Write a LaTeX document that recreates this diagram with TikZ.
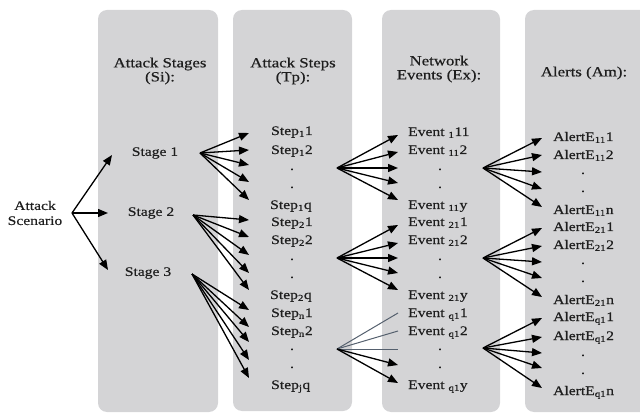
\documentclass[tikz,border=0pt]{standalone}
\usepackage{fontspec}
\setmainfont{Liberation Serif}[FakeStretch=1.2,FakeBold=0.5]
\usetikzlibrary{arrows.meta}
\definecolor{colbg}{RGB}{212,212,214}
\definecolor{slate}{RGB}{85,96,110}
\definecolor{ink}{RGB}{30,30,30}
\begin{document}
\begin{tikzpicture}[x=1pt,y=-1pt,
  lbl/.style={font=\fontsize{13}{15}\selectfont, text=ink, inner sep=0pt, anchor=base west},
  mid/.style={font=\fontsize{13}{15}\selectfont, text=ink, inner sep=0pt, align=center},
  dotlbl/.style={font=\fontsize{13}{15}\selectfont, text=ink, inner sep=0pt, anchor=base},
  hdr/.style={font=\fontsize{14}{14}\selectfont, text=ink, align=center, inner sep=0pt},
  arr/.style={line width=1.3pt, -{Triangle[length=10pt,width=8pt]}},
  thin/.style={line width=1pt, draw=slate},
  colbox/.style={fill=colbg, rounded corners=9pt}]
\useasboundingbox (0,0) rectangle (640,414);
\begin{scope}
\clip (0,0) rectangle (640,414);
\fill[colbox] (98,10) rectangle (218,412);
\fill[colbox] (233,10) rectangle (352,411);
\fill[colbox] (382,10) rectangle (500,412);
\fill[colbox] (525,10) rectangle (660,412);
\end{scope}
% headers
\node[hdr] (h1) at (160,71) {Attack Stages\\(Si):};
\node[hdr] (h2) at (293,71) {Attack Steps\\(Tp):};
\node[hdr] (h3) at (439,69) {Network\\Events (Ex):};
\node[hdr] (h4) at (584,73) {Alerts (Am):};
% scenario and stages
\node[mid] (sc) at (35,213) {Attack\\Scenario};
\node[mid] (g1) at (155,153) {Stage 1};
\node[mid] (g2) at (151,213) {Stage 2};
\node[mid] (g3) at (148,273) {Stage 3};
% steps
\node[lbl] (p1) at (271,135) {Step\textsubscript{1}1};
\node[lbl] (p2) at (271,154) {Step\textsubscript{1}2};
\node[dotlbl] (p3) at (292,170) {.};
\node[dotlbl] (p4) at (292,188) {.};
\node[lbl] (p5) at (270,209) {Step\textsubscript{1}q};
\node[lbl] (p6) at (271,226) {Step\textsubscript{2}1};
\node[lbl] (p7) at (271,244) {Step\textsubscript{2}2};
\node[dotlbl] (p8) at (292,260) {.};
\node[dotlbl] (p9) at (292,278) {.};
\node[lbl] (p10) at (270,299) {Step\textsubscript{2}q};
\node[lbl] (p11) at (271,317) {Step\textsubscript{n}1};
\node[lbl] (p12) at (271,335) {Step\textsubscript{n}2};
\node[dotlbl] (p13) at (292,350) {.};
\node[dotlbl] (p14) at (292,368) {.};
\node[lbl] (p15) at (271,389) {Step\textsubscript{j}q};
% events
\node[lbl] (e1) at (408,136) {Event \textsubscript{1}11};
\node[lbl] (e2) at (408,154) {Event \textsubscript{11}2};
\node[dotlbl] (e3) at (440,170) {.};
\node[dotlbl] (e4) at (440,188) {.};
\node[lbl] (e5) at (408,209) {Event \textsubscript{11}y};
\node[lbl] (e6) at (408,226) {Event \textsubscript{21}1};
\node[lbl] (e7) at (408,244) {Event \textsubscript{21}2};
\node[dotlbl] (e8) at (440,260) {.};
\node[dotlbl] (e9) at (440,278) {.};
\node[lbl] (e10) at (408,299) {Event \textsubscript{21}y};
\node[lbl] (e11) at (408,317) {Event \textsubscript{q1}1};
\node[lbl] (e12) at (408,335) {Event \textsubscript{q1}2};
\node[dotlbl] (e13) at (440,350) {.};
\node[dotlbl] (e14) at (440,368) {.};
\node[lbl] (e15) at (408,389) {Event \textsubscript{q1}y};
% alerts
\node[lbl] (a1) at (553,141) {AlertE\textsubscript{11}1};
\node[lbl] (a2) at (553,159) {AlertE\textsubscript{11}2};
\node[dotlbl] (a3) at (583,174) {.};
\node[dotlbl] (a4) at (583,192) {.};
\node[lbl] (a5) at (553,214) {AlertE\textsubscript{11}n};
\node[lbl] (a6) at (553,231) {AlertE\textsubscript{21}1};
\node[lbl] (a7) at (553,249) {AlertE\textsubscript{21}2};
\node[dotlbl] (a8) at (583,264) {.};
\node[dotlbl] (a9) at (583,282) {.};
\node[lbl] (a10) at (553,304) {AlertE\textsubscript{21}n};
\node[lbl] (a11) at (553,321) {AlertE\textsubscript{q1}1};
\node[lbl] (a12) at (553,340) {AlertE\textsubscript{q1}2};
\node[dotlbl] (a13) at (583,356) {.};
\node[dotlbl] (a14) at (583,374) {.};
\node[lbl] (a15) at (553,395) {AlertE\textsubscript{q1}n};
% fan origins
\coordinate (o0) at (72,213);
\coordinate (o1) at (200,153);
\coordinate (o2) at (193,215);
\coordinate (o3) at (192,274);
\coordinate (q1) at (337,168);
\coordinate (q2) at (337,258);
\coordinate (q3) at (337,349);
\coordinate (r1) at (483,168);
\coordinate (r2) at (483,258);
\coordinate (r3) at (483,348);
% scenario -> stages
\coordinate (t01) at (112,155);
\coordinate (t02) at (108,213);
\coordinate (t03) at (108,270);
\foreach \k in {1,2,3} \draw[arr] (o0) -- (t0\k);
% stages -> steps
\foreach \k/\yy in {1/133,2/150,3/165,4/182,5/200}{
  \coordinate (t1\k) at (249,\yy); \draw[arr] (o1) -- (t1\k);}
\foreach \k/\yy in {1/220,2/237,3/255,4/273,5/290}{
  \coordinate (t2\k) at (249,\yy); \draw[arr] (o2) -- (t2\k);}
\foreach \k/\yy in {1/310,2/327,3/342,4/360,5/378}{
  \coordinate (t3\k) at (249,\yy); \draw[arr] (o3) -- (t3\k);}
% steps -> events
\foreach \k/\yy in {1/135,2/152,3/168,4/183,5/200}{
  \coordinate (u1\k) at (398,\yy); \draw[arr] (q1) -- (u1\k);}
\foreach \k/\yy in {1/225,2/243,3/258,4/273,5/290}{
  \coordinate (u2\k) at (398,\yy); \draw[arr] (q2) -- (u2\k);}
\foreach \k/\yy in {1/313,2/331,3/349}{
  \coordinate (u3\k) at (398,\yy); \draw[thin] (q3) -- (u3\k);}
\foreach \k/\yy in {4/365,5/383}{
  \coordinate (u3\k) at (398,\yy); \draw[arr] (q3) -- (u3\k);}
% events -> alerts
\foreach \k/\yy in {1/138,2/155,3/172,4/189,5/207}{
  \coordinate (v1\k) at (542,\yy); \draw[arr] (r1) -- (v1\k);}
\foreach \k/\yy in {1/228,2/246,3/262,4/278,5/297}{
  \coordinate (v2\k) at (542,\yy); \draw[arr] (r2) -- (v2\k);}
\foreach \k/\yy in {1/318,2/337,3/353,4/368,5/388}{
  \coordinate (v3\k) at (542,\yy); \draw[arr] (r3) -- (v3\k);}
\end{tikzpicture}
\end{document}
